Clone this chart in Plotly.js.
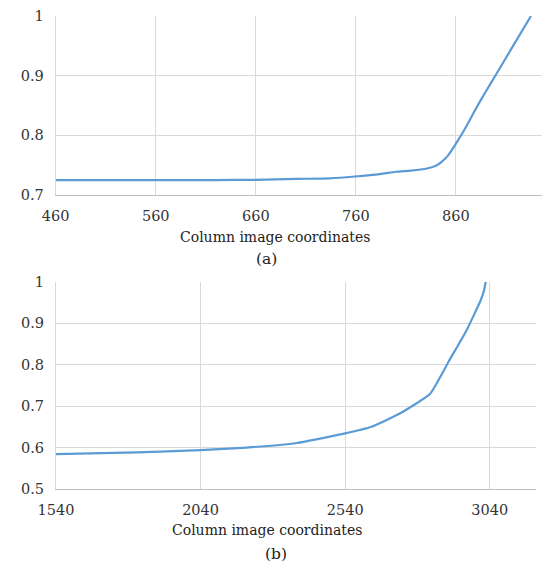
<!DOCTYPE html>
<html>
<head>
<meta charset="utf-8">
<script src="https://cdn.plot.ly/plotly-3.0.1.min.js"></script>
<style>html,body{margin:0;padding:0;background:#fff;}#chart{width:543px;height:565px;}</style>
</head>
<body>
<div id="chart"></div>
<script>
// (a) series
var xA = [460, 500, 560, 620, 660, 700, 734, 759, 784, 800, 815, 830, 840, 846, 852, 860, 870, 880, 890, 899, 915, 935];
var yA = [0.725, 0.725, 0.725, 0.725, 0.7255, 0.727, 0.728, 0.731, 0.735, 0.739, 0.741, 0.744, 0.749, 0.756, 0.766, 0.786, 0.814, 0.845, 0.874, 0.899, 0.944, 1.0];
// (b) series
var xB = [1540, 1740, 1900, 2040, 2200, 2372, 2540, 2631, 2729, 2833, 2900, 2960, 3008, 3020, 3026];
var yB = [0.584, 0.587, 0.590, 0.594, 0.600, 0.611, 0.634, 0.650, 0.682, 0.729, 0.810, 0.883, 0.954, 0.978, 1.0];

var xTicksA = [460, 560, 660, 760, 860];
var yTicksA = [0.7, 0.8, 0.9, 1];
var yTickTextA = ["0.7", "0.8", "0.9", "1"];
var xTicksB = [1540, 2040, 2540, 3040];
var yTicksB = [0.5, 0.6, 0.7, 0.8, 0.9, 1];
var yTickTextB = ["0.5", "0.6", "0.7", "0.8", "0.9", "1"];
var xTitle = "Column image coordinates";
var labelA = "(a)";
var labelB = "(b)";

var W = 543, H = 565;
var serif = "DejaVu Serif";
var tickFont = {family: serif, size: 14.5, color: "#333333"};
var lineColor = "#5b9bd5";
var grid = "#d9d9d9";

function px(x) { return x / W; }
function py(y) { return (H - y) / H; }

var traces = [
  {x: xA, y: yA, xaxis: "x", yaxis: "y", type: "scatter", mode: "lines",
   line: {color: lineColor, width: 2.2, shape: "spline", smoothing: 0.6}, hoverinfo: "skip"},
  {x: xB, y: yB, xaxis: "x2", yaxis: "y2", type: "scatter", mode: "lines",
   line: {color: lineColor, width: 2.2, shape: "spline", smoothing: 0.4}, hoverinfo: "skip"}
];

function xax(range, ticks, domain, anchor) {
  return {domain: domain, anchor: anchor, range: range, tickvals: ticks,
    ticktext: ticks.map(String), showgrid: true, gridcolor: grid, gridwidth: 1,
    showline: true, linecolor: "#bfbfbf", linewidth: 1, zeroline: false,
    ticks: "", tickfont: tickFont, ticklabelstandoff: 8, fixedrange: true};
}
function yax(range, ticks, text, domain, anchor) {
  return {domain: domain, anchor: anchor, range: range, tickvals: ticks, ticktext: text,
    showgrid: true, gridcolor: grid, gridwidth: 1, showline: true, linecolor: grid,
    linewidth: 1, zeroline: false, ticks: "", tickfont: tickFont,
    ticklabelstandoff: 8, fixedrange: true};
}

var layout = {
  width: W, height: H,
  margin: {l: 0, r: 0, t: 0, b: 0},
  paper_bgcolor: "#ffffff", plot_bgcolor: "#ffffff",
  showlegend: false,
  font: {family: serif},
  xaxis: xax([460, 946], xTicksA, [px(55.7), px(542)], "y"),
  yaxis: yax([0.7, 1], yTicksA, yTickTextA, [py(195), py(16)], "x"),
  xaxis2: xax([1540, 3200], xTicksB, [px(56), px(536)], "y2"),
  yaxis2: yax([0.5, 1], yTicksB, yTickTextB, [py(489), py(281.7)], "x2"),
  annotations: [
    {text: xTitle, xref: "paper", yref: "paper", x: px(275), y: py(237), showarrow: false,
     xanchor: "center", yanchor: "middle", font: {family: serif, size: 14, color: "#222222"}},
    {text: labelA, xref: "paper", yref: "paper", x: px(266), y: py(259), showarrow: false,
     xanchor: "center", yanchor: "middle", font: {family: serif, size: 15.5, color: "#222222"}},
    {text: xTitle, xref: "paper", yref: "paper", x: px(267), y: py(530), showarrow: false,
     xanchor: "center", yanchor: "middle", font: {family: serif, size: 14, color: "#222222"}},
    {text: labelB, xref: "paper", yref: "paper", x: px(276), y: py(554), showarrow: false,
     xanchor: "center", yanchor: "middle", font: {family: serif, size: 15.5, color: "#222222"}}
  ]
};

Plotly.newPlot("chart", traces, layout, {displayModeBar: false, staticPlot: true});
</script>
</body>
</html>
